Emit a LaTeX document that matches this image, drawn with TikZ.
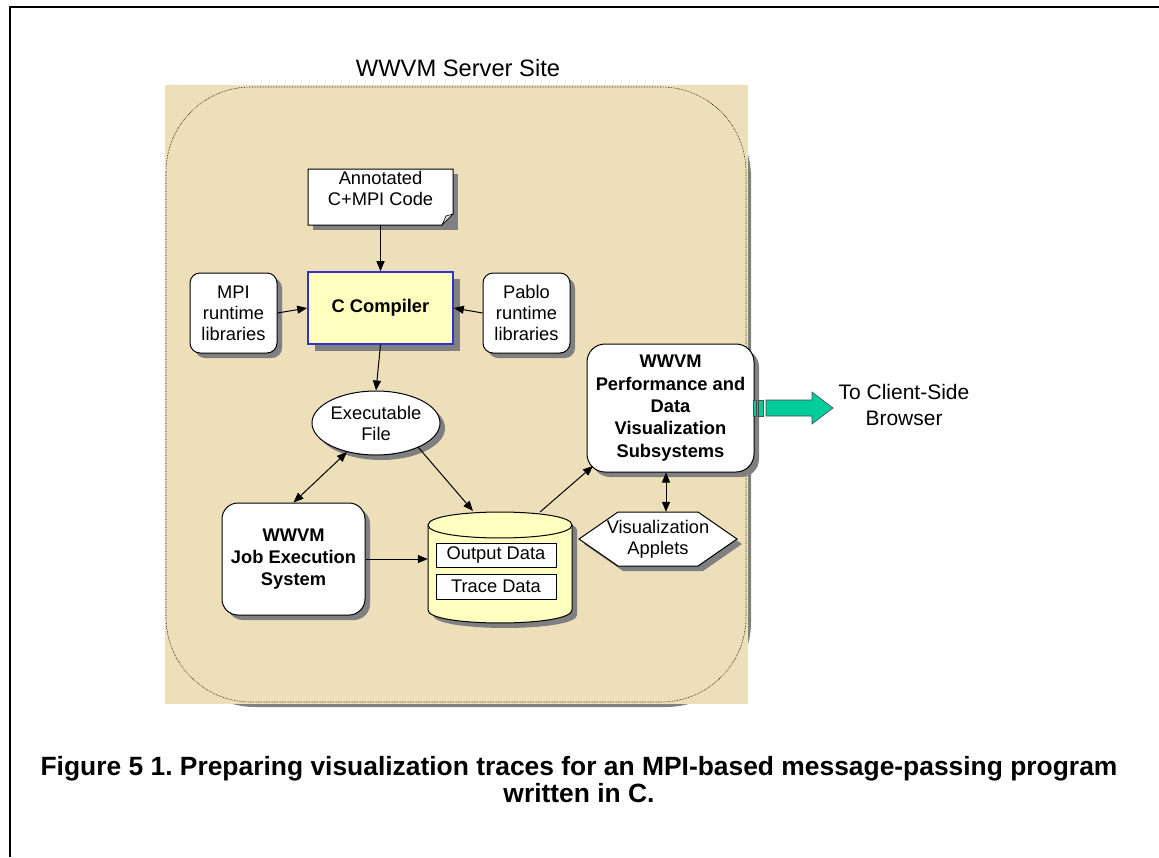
\documentclass[tikz,border=0pt]{standalone}
\usepackage{fontspec}
\setmainfont{Liberation Sans}
\frenchspacing
\usetikzlibrary{shapes.geometric,arrows.meta,shadows,calc}
\definecolor{parch}{RGB}{238,223,187}
\definecolor{cyellow}{RGB}{255,255,192}
\definecolor{cblue}{RGB}{51,51,204}
\definecolor{tealarrow}{RGB}{0,204,153}
\definecolor{shad}{RGB}{128,128,128}
\begin{document}
\begin{tikzpicture}[x=1pt,y=-1pt,
  txt/.style={font=\fontsize{18.3}{21}\selectfont, align=center, inner sep=0pt},
  btxt/.style={font=\fontsize{18.3}{22.3}\selectfont\bfseries, align=center, inner sep=0pt},
  shd/.style={drop shadow={shadow xshift=5pt,shadow yshift=-5pt,fill=shad,opacity=1}},
  rbox/.style={txt, draw, fill=white, line width=1pt, rounded corners=10pt, shd},
  arr/.style={line width=1pt, -{Triangle[length=10pt,width=8pt]}},
  darr/.style={line width=1pt, {Triangle[length=10pt,width=8pt]}-{Triangle[length=10pt,width=8pt]}},
]
\useasboundingbox (0,0) rectangle (1159,857);
\fill[white] (0,0) rectangle (1159,857);
\draw[line width=2pt] (10,857) -- (10,7) -- (1159,7);

% server site area
\fill[shad, rounded corners=85pt] (170,92) rectangle (751,707);
\fill[parch] (165,85) rectangle (748,704);
\draw[densely dotted, line width=0.6pt, rounded corners=85pt] (166,87) rectangle (746,702);
\node[font=\fontsize{23.7}{28}\selectfont] (title) at (458,68) {WWVM Server Site};

% note
\fill[shad] (313,174) -- (458,174) -- (458,230) -- (313,230) -- cycle;
\filldraw[fill=white, line width=1pt] (308,169) -- (453,169) -- (453,214) -- (442,225) -- (308,225) -- cycle;
\filldraw[fill=gray!25, line width=0.6pt] (453,214) -- (446,216) -- (442,225) -- cycle;
\node[minimum width=145pt, minimum height=56pt, inner sep=0pt] (note) at (380.5,197) {};
\node[txt] (notetext) at (380.5,188) {Annotated\\C+MPI Code};

% compiler and libraries
\node[btxt, draw=cblue, line width=1.6pt, fill=cyellow, minimum width=145pt, minimum height=72pt,
      drop shadow={shadow xshift=7pt,shadow yshift=-7pt,fill=shad,opacity=1}] (comp) at (380.5,308) {C Compiler};
\node[rbox, minimum width=87pt, minimum height=80pt] (mpi) at (233.5,313) {MPI\\runtime\\libraries};
\node[rbox, minimum width=87pt, minimum height=80pt] (pablo) at (526.5,313) {Pablo\\runtime\\libraries};

% executable
\node[txt, ellipse, draw, fill=white, line width=1pt, minimum width=120pt, minimum height=64pt, shd] (exe) at (376,423) {Executable\\File};

% job execution
\node[btxt, draw, fill=white, line width=1pt, rounded corners=16pt, minimum width=143pt, minimum height=112pt, shd] (job) at (293.5,559) {WWVM\\Job Execution\\System};

% data store
\fill[shad] (433,530) -- (433,615) .. controls (433,632.3) and (577,632.3) .. (577,615) -- (577,530) .. controls (577,512.7) and (433,512.7) .. (433,530) -- cycle;
\filldraw[fill=cyellow, line width=1pt] (428,525) -- (428,610) .. controls (428,627.3) and (572,627.3) .. (572,610) -- (572,525) .. controls (572,507.7) and (428,507.7) .. (428,525) -- cycle;
\draw[line width=1pt] (428,525) .. controls (428,542.3) and (572,542.3) .. (572,525);
\node[minimum width=144pt, minimum height=111pt, inner sep=0pt] (db) at (500,567.5) {};
\node[txt, draw, fill=white, line width=1pt, minimum width=120pt, minimum height=24pt] (out) at (496,555) {Output Data};
\node[txt, draw, fill=white, line width=1pt, minimum width=120pt, minimum height=25pt] (trace) at (496,586.5) {Trace Data};

% performance subsystems
\node[btxt, draw, fill=white, line width=1pt, rounded corners=18pt, minimum width=167pt, minimum height=128pt, shd] (perf) at (670.5,408) {WWVM\\Performance and\\Data\\Visualization\\Subsystems};

% applets hexagon
\fill[shad] (584,544) -- (623,517) -- (703,517) -- (742,544) -- (703,571) -- (623,571) -- cycle;
\filldraw[fill=white, line width=1pt] (579,539) -- (618,512) -- (698,512) -- (737,539) -- (698,566) -- (618,566) -- cycle;
\node[txt, minimum width=158pt, minimum height=54pt] (hex) at (658,539) {Visualization\\Applets};

% big arrow to client
\filldraw[fill=tealarrow, draw=black!70, line width=0.6pt] (753,400) rectangle (756,416);
\filldraw[fill=tealarrow, draw=black!70, line width=0.6pt] (758,400) rectangle (763,416);
\filldraw[fill=tealarrow, draw=black!70, line width=0.6pt] (766,400) -- (812,400) -- (812,392) -- (833,408) -- (812,424) -- (812,416) -- (766,416) -- cycle;
\node[font=\fontsize{21}{26}\selectfont, align=center] (client) at (904,405) {To Client-Side\\Browser};

% caption
\node[font=\fontsize{26.4}{27}\selectfont\bfseries, align=center] (cap) at (579,779.5) {Figure 5 1. Preparing visualization traces for an MPI-based message-passing program\\written in C.};

% connectors
\draw[arr] (note.south) -- (comp.north);
\draw[arr] (mpi.east) -- (comp.west);
\draw[arr] (pablo.west) -- (comp.east);
\draw[arr] (comp.south) -- (exe.north);
\draw[darr] (exe.225) -- (job.north);
\coordinate (dbin) at (473,511);
\draw[arr] (exe.330) -- (dbin);
\draw[arr] (job.east) -- (job.east -| db.west);
\coordinate (dbout) at (540,512);
\coordinate (perfin) at (593,466);
\draw[arr] (dbout) -- (perfin);
\draw[darr] ($(perf.south)+(-4.5,0)$) -- ($(hex.north)+(8,0)$);
\end{tikzpicture}
\end{document}
